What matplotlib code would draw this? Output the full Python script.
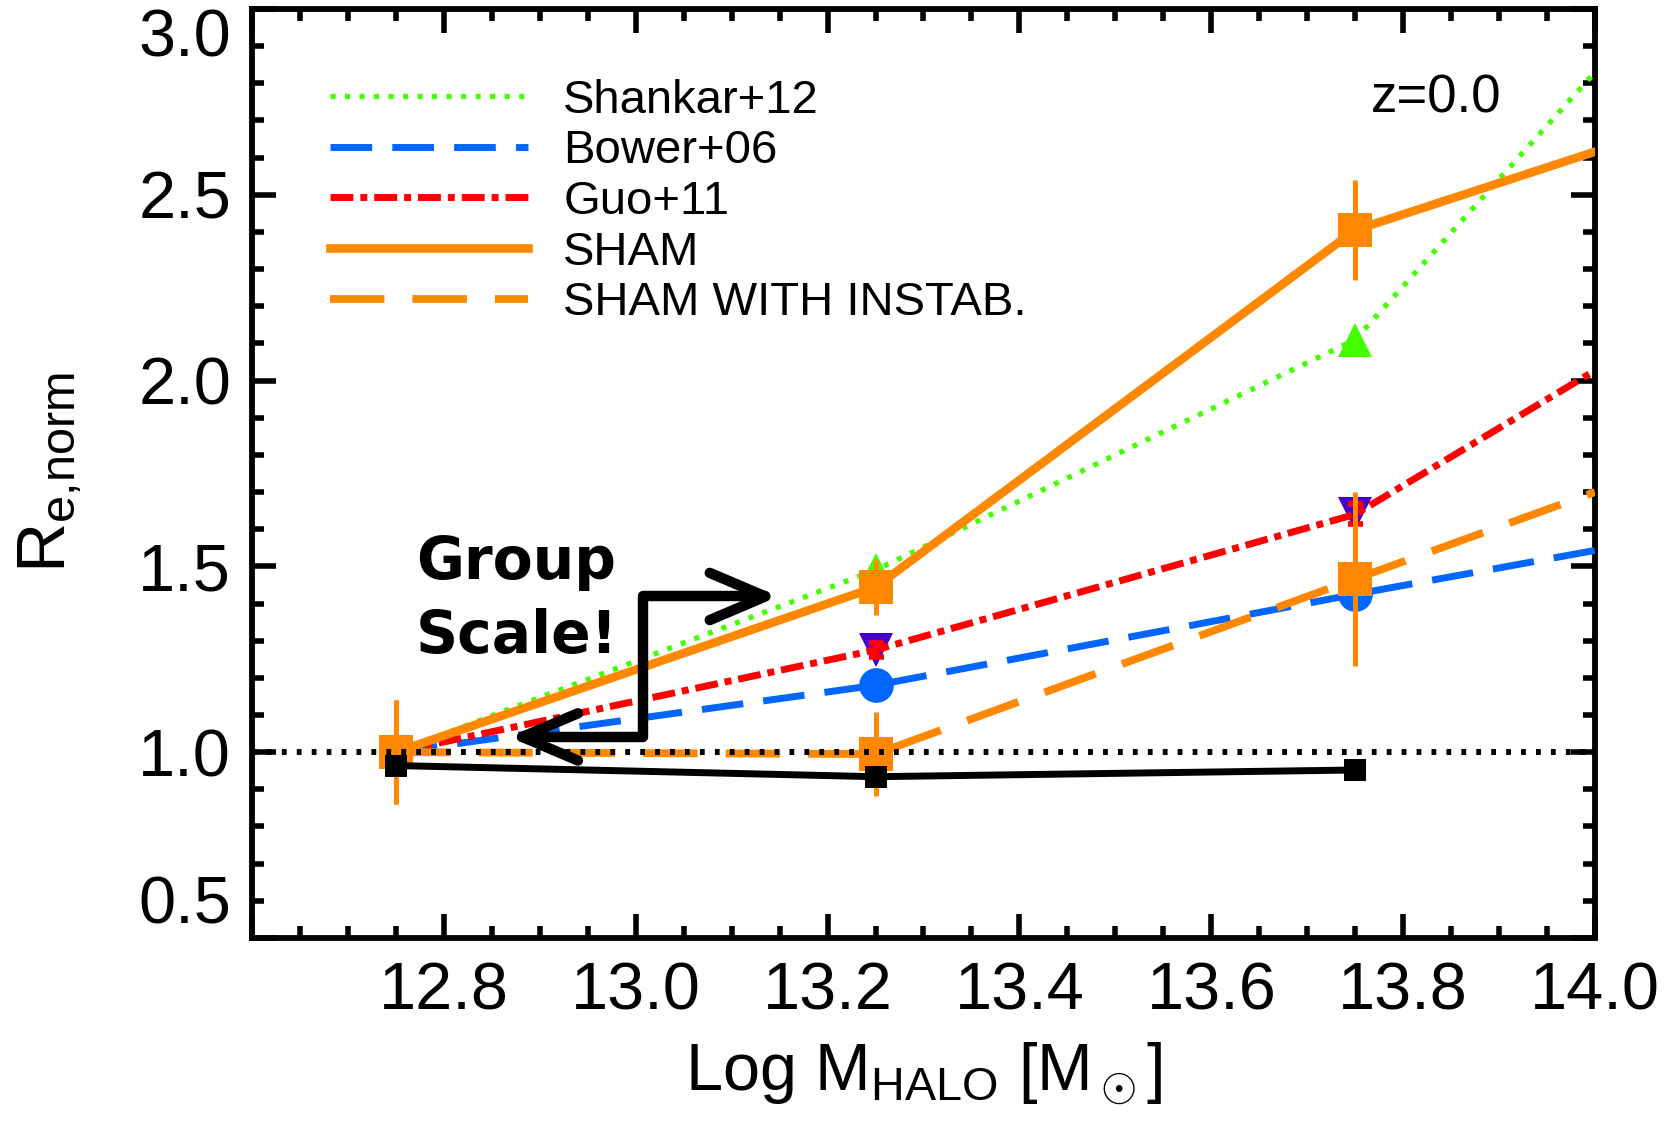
import matplotlib
matplotlib.use('Agg')
from matplotlib import pyplot as plt
from matplotlib.patches import FancyArrowPatch, ArrowStyle
from matplotlib.path import Path

# halo mass bins (last entry = right edge of the plot)
mhalo = [12.75, 13.25, 13.75, 14.0]
shankar = [1.0, 1.49, 2.11, 2.83]
bower = [1.0, 1.18, 1.425, 1.543]
guo = [1.0, 1.275, 1.64, 2.027]
sham = [1.0, 1.444, 2.405, 2.616]
sham_instab = [1.0, 0.995, 1.466, 1.70]

# points with error bars (first three bins)
sham_err = [0.14, 0.074, 0.135]
instab_err = [0.14, 0.113, 0.233]
guo_err = [0.0, 0.019, 0.027]
data_black = [0.964, 0.934, 0.952]

xticks = [12.6, 12.8, 13.0, 13.2, 13.4, 13.6, 13.8, 14.0]
xticklabels = ['', '12.8', '13.0', '13.2', '13.4', '13.6', '13.8', '14.0']
yticks = [0.5, 1.0, 1.5, 2.0, 2.5, 3.0]
yticklabels = ['0.5', '1.0', '1.5', '2.0', '2.5', '3.0']

# bent double arrow next to the "Group Scale!" note
arrow_x = [13.149, 13.008, 13.008, 12.868]
arrow_y = [1.419, 1.419, 1.041, 1.041]

GREEN = '#44ff00'
BLUE = '#0066ff'
RED = '#ff0000'
ORANGE = '#ff8800'
PURPLE = '#4a00c8'

plt.rcParams['font.family'] = ['Liberation Sans', 'DejaVu Sans']
plt.rcParams['mathtext.fontset'] = 'custom'
plt.rcParams['mathtext.rm'] = 'Liberation Sans'
plt.rcParams['mathtext.it'] = 'Liberation Sans'

fig = plt.figure(figsize=(16.71, 11.39), dpi=100)
ax = fig.add_axes([0.1508, 0.1765, 0.8037, 0.8156])

n = 3
# underlying markers
ax.plot(mhalo[:n], shankar[:n], '^', color=GREEN, ms=25, mew=0, zorder=2)
ax.plot(mhalo[:n], bower[:n], 'o', color=BLUE, ms=25, mew=0, zorder=2)
ax.plot(mhalo[:n], guo[:n], 'v', color=PURPLE, ms=25, mew=0, zorder=2)

l1, = ax.plot(mhalo, shankar, color=GREEN, lw=3.8, ls=(0, (0.95, 1.8)),
              label='Shankar+12', zorder=3)
l2, = ax.plot(mhalo, bower, color=BLUE, lw=5, ls=(0, (6.0, 2.9)),
              label='Bower+06', zorder=3)
l3, = ax.plot(mhalo, guo, color=RED, lw=5, ls=(0, (3.3, 1.0, 1.0, 1.0)),
              label='Guo+11', zorder=3)
ax.errorbar(mhalo[1:n], guo[1:n], yerr=guo_err[1:n], fmt='none', ecolor=RED,
            elinewidth=3.6, capsize=5.4, capthick=4, zorder=3)

l4, = ax.plot(mhalo, sham, color=ORANGE, lw=6.2, label='SHAM', zorder=4)
l5, = ax.plot(mhalo, sham_instab, color=ORANGE, lw=5.6, ls=(0, (7.0, 3.6)),
              label='SHAM WITH INSTAB.', zorder=4)
ax.errorbar(mhalo[:n], sham[:n], yerr=sham_err, fmt='s', color=ORANGE, ms=25,
            mew=0, elinewidth=3.6, capsize=5.4, capthick=4, zorder=5)
ax.errorbar(mhalo[:n], sham_instab[:n], yerr=instab_err, fmt='s', color=ORANGE,
            ms=25, mew=0, elinewidth=3.6, capsize=5.4, capthick=4, zorder=5)

ax.axhline(1.0, color='black', lw=4.3, ls=(0, (0.8, 1.7)), zorder=6)
ax.plot(mhalo[:n], data_black, color='black', lw=5, marker='s', ms=16.5,
        mew=0, zorder=7)

# annotation
verts = list(zip(arrow_x, arrow_y))
arrow = FancyArrowPatch(path=Path(verts),
                        arrowstyle=ArrowStyle('<->', head_length=40, head_width=17),
                        lw=7.5, color='black', capstyle='round', joinstyle='round',
                        zorder=8)
ax.add_patch(arrow)
ax.text(12.771, 1.266, 'Group\nScale!', fontsize=42, fontweight='bold',
        family='DejaVu Sans', ha='left', va='baseline', linespacing=1.38, zorder=9)
ax.text(0.882, 0.889, 'z=0.0', transform=ax.transAxes, fontsize=38,
        ha='center', va='baseline')

ax.set_xlim(12.6, 14.0)
ax.set_ylim(0.5, 3.0)
ax.set_xticks(xticks)
ax.set_xticklabels(xticklabels)
ax.set_yticks(yticks)
ax.set_yticklabels(yticklabels)
ax.set_xticks([12.6 + 0.05 * i for i in range(29)], minor=True)
ax.set_yticks([0.5 + 0.1 * i for i in range(26)], minor=True)
ax.tick_params(which='both', direction='in', top=True, right=True, width=4)
ax.tick_params(which='major', length=17, labelsize=48)
ax.tick_params(axis='x', which='major', pad=17)
ax.tick_params(axis='y', which='major', pad=15)
ax.tick_params(which='minor', length=8.5)
for s in ax.spines.values():
    s.set_linewidth(4.2)

# end labels sit inside the axis range like the original
yt = ax.yaxis.get_major_ticks()
yt[0].label1.set_verticalalignment('bottom')
yt[-1].label1.set_verticalalignment('top')

fig.text(50 / 1671, 1 - 472 / 1139, r'R$_{\mathregular{e{,}norm}}$', fontsize=50,
         rotation=90, ha='center', va='center')
ax.set_xlabel(r'Log M$_{\mathregular{HALO}}$ [M$_\odot$]', fontsize=48, labelpad=12)

ax.legend(handles=[l1, l2, l3, l4, l5], loc='upper left',
          bbox_to_anchor=(0.058, 0.925), frameon=False, fontsize=34,
          handlelength=4.2, handletextpad=0.74, labelspacing=0.14,
          borderpad=0, borderaxespad=0)

fig.savefig('out.png', dpi=100)
